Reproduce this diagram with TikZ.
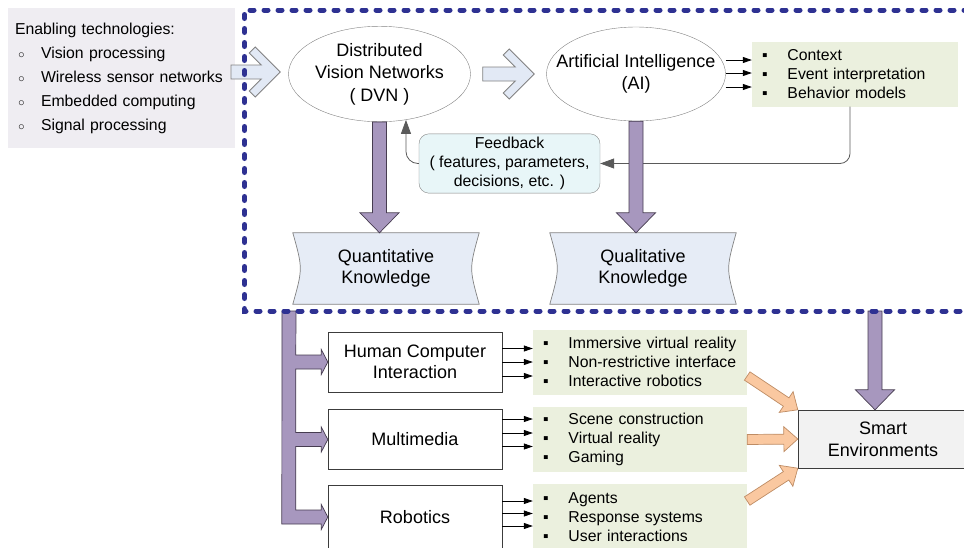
\documentclass[tikz,border=0pt]{standalone}
\usepackage{fontspec}
\setmainfont{Liberation Sans}
\usetikzlibrary{calc,shapes.geometric,arrows.meta,backgrounds}

\definecolor{dvnblue}{RGB}{46,49,146}
\definecolor{techgray}{RGB}{239,237,242}
\definecolor{listgreen}{RGB}{235,240,222}
\definecolor{fbcyan}{RGB}{232,246,248}
\definecolor{knowblue}{RGB}{230,236,246}
\definecolor{purplefill}{RGB}{167,151,190}
\definecolor{purpleline}{RGB}{70,60,80}
\definecolor{peach}{RGB}{250,200,160}
\definecolor{peachline}{RGB}{190,140,100}
\definecolor{envgray}{RGB}{242,242,242}
\definecolor{hollowfill}{RGB}{226,233,245}
\definecolor{lightline}{RGB}{130,130,130}
\definecolor{darkline}{RGB}{60,60,60}
\definecolor{fbline}{RGB}{90,90,90}

\newcommand{\sqbul}{\makebox[25.5pt][l]{▪}}
\newcommand{\cbul}{\hspace*{3pt}\makebox[23pt][l]{\fontsize{11}{11}\selectfont ○}}

\tikzstyle{arrow} = [line width=0.8pt,->,>={Triangle[length=9pt,width=6pt]}]
\tikzstyle{fbarrow} = [line width=0.8pt,draw=fbline,->,>={Triangle[length=14pt,width=10pt]}]

\tikzset{
  listbox/.style={fill=listgreen, minimum height=65pt, inner xsep=10pt, align=left},
  appbox/.style={draw=darkline, fill=white, minimum width=174pt, minimum height=60pt, align=center, font=\fontsize{18}{21}\selectfont},
  knowbox/.style={align=center, minimum width=186pt, minimum height=71pt, font=\fontsize{18}{21}\selectfont},
  ellnode/.style={ellipse, draw=lightline, fill=white, inner sep=0pt, font=\fontsize{18}{22.5}\selectfont},
  % #1 shaft half width, #2 head half width, #3 head length
  blockarrow/.style n args={3}{to path={
    ($(\tikztostart)!#1!90:(\tikztotarget)$)
    -- ($($(\tikztotarget)!#3!(\tikztostart)$)!#1!90:(\tikztotarget)$)
    -- ($($(\tikztotarget)!#3!(\tikztostart)$)!#2!90:(\tikztotarget)$)
    -- (\tikztotarget)
    -- ($($(\tikztotarget)!#3!(\tikztostart)$)!#2!-90:(\tikztotarget)$)
    -- ($($(\tikztotarget)!#3!(\tikztostart)$)!#1!-90:(\tikztotarget)$)
    -- ($(\tikztostart)!#1!-90:(\tikztotarget)$) -- cycle}},
  hollowarrow/.style={draw=lightline, fill=hollowfill, line width=0.8pt, to path={
    ($(\tikztostart)!7pt!90:(\tikztotarget)$)
    -- ($($(\tikztotarget)!19pt!(\tikztostart)$)!7pt!90:(\tikztotarget)$)
    -- ($($(\tikztotarget)!31pt!(\tikztostart)$)!19pt!90:(\tikztotarget)$)
    -- ($($(\tikztotarget)!25pt!(\tikztostart)$)!25pt!90:(\tikztotarget)$)
    -- (\tikztotarget)
    -- ($($(\tikztotarget)!25pt!(\tikztostart)$)!25pt!-90:(\tikztotarget)$)
    -- ($($(\tikztotarget)!31pt!(\tikztostart)$)!19pt!-90:(\tikztotarget)$)
    -- ($($(\tikztotarget)!19pt!(\tikztostart)$)!7pt!-90:(\tikztotarget)$)
    -- ($(\tikztostart)!7pt!-90:(\tikztotarget)$) -- cycle}},
  purplearrow/.style={blockarrow={7pt}{19.5pt}{20pt}, draw=purpleline, fill=purplefill, line width=0.7pt},
  peacharrow/.style={blockarrow={5pt}{12.5pt}{14pt}, draw=peachline, fill=peach, line width=0.7pt},
  dvnframe/.style={draw=dvnblue, line width=5pt, line cap=round, dash pattern=on 4pt off 10pt}
}

\begin{document}
\begin{tikzpicture}[x=1pt, y=-1pt, node distance=77.5pt, font=\fontsize{15.8}{19}\selectfont]
  \useasboundingbox (0,0) rectangle (964,547);

  % upper part
  \node[fill=techgray, minimum width=227pt, minimum height=140pt, text width=213pt, inner xsep=7pt, align=left, font=\fontsize{15.8}{24}\selectfont] (tech) at (121.5,78) {Enabling technologies:\\\cbul Vision processing\\\cbul Wireless sensor networks\\\cbul Embedded computing\\\cbul Signal processing};
  \node[ellnode, minimum width=182pt, minimum height=93pt] (dvn) at (379.5,74) {\makebox[0pt]{\begin{tabular}{@{}c@{}}Distributed\\Vision Networks\\( DVN )\end{tabular}}};
  \node[ellnode, minimum width=179pt, minimum height=94pt] (ai) at (636,74) {\makebox[0pt]{\begin{tabular}{@{}c@{}}Artificial Intelligence\\(AI)\end{tabular}}};
  \node[listbox, text width=186pt, minimum width=206pt] (ctxlist) at (855,74) {\sqbul Context\\\sqbul Event interpretation\\\sqbul Behavior models};
  \node[draw=lightline, fill=fbcyan, rounded corners=10pt, minimum width=181pt, minimum height=57pt, align=center] (fb) at (509.5,163.5) {Feedback\\( features, parameters,\\decisions, etc. )};
  \node[knowbox] (quant) at (386,268.5) {Quantitative\\Knowledge};
  \node[knowbox] (qual) at (643,268.5) {Qualitative\\Knowledge};
  \begin{scope}[on background layer]
    \foreach \k in {quant,qual}
      \draw[draw=lightline, fill=knowblue, line width=0.7pt] (\k.north west) -- (\k.north east) .. controls ($(\k.east)+(-10,0)$) .. (\k.south east) -- (\k.south west) .. controls ($(\k.west)+(10,0)$) .. cycle;
  \end{scope}

  % applications
  \node[appbox] (hci) at (415,362) {Human Computer\\Interaction};
  \node[appbox, below of=hci] (mm) {Multimedia};
  \node[appbox, below of=mm, minimum height=64pt] (rob) {Robotics};
  \node[listbox, text width=194pt, minimum width=214pt] (hcilist) at (640,362) {\sqbul Immersive virtual reality\\\sqbul Non-restrictive interface\\\sqbul Interactive robotics};
  \node[listbox, text width=194pt, minimum width=214pt] (mmlist) at (640,439.5) {\sqbul Scene construction\\\sqbul Virtual reality\\\sqbul Gaming};
  \node[listbox, text width=194pt, minimum width=214pt, minimum height=66pt] (roblist) at (640,517) {\sqbul Agents\\\sqbul Response systems\\\sqbul User interactions};
  \node[draw=darkline, fill=envgray, minimum width=170pt, minimum height=58pt, align=center, font=\fontsize{18}{22}\selectfont] (env) at (883,439) {Smart\\Environments};

  % thin arrows
  \foreach \dy in {14,1,-13}
    \draw[arrow] ([yshift=\dy pt]ai.east) -- ([yshift=\dy pt]ctxlist.west);
  \foreach \dy in {13.5,0,-14}
    \draw[arrow] ([yshift=\dy pt]hci.east) -- ([yshift=\dy pt]hcilist.west);
  \foreach \dy in {20.5,6.5,-7}
    \draw[arrow] ([yshift=\dy pt]mm.east) -- ([yshift=\dy pt]mmlist.west);
  \foreach \dy in {16,3.5,-9}
    \draw[arrow] ([yshift=\dy pt]rob.east) -- ([yshift=\dy pt]roblist.west);
  \draw[fbarrow, rounded corners=10pt] ([xshift=-5pt]ctxlist.south) |- (fb.east);
  \draw[fbarrow, rounded corners=12pt] (fb.west) -| (dvn.-60);

  % block arrows
  \coordinate (techout) at (231,72);
  \coordinate (dvnin) at ([xshift=-8pt,yshift=2pt]dvn.west);
  \coordinate (dvnout) at ([xshift=12pt]dvn.east);
  \coordinate (aiin) at ([xshift=-12pt]ai.west);
  \draw[hollowarrow] (techout) to (dvnin);
  \draw[hollowarrow] (dvnout) to (aiin);
  \coordinate (quanttip) at (dvn.south |- quant.north);
  \coordinate (qualtip) at (ai.south |- qual.north);
  \coordinate (envtop) at (875,311);
  \coordinate (envtip) at (envtop |- env.north);
  \draw[purplearrow] (dvn.south) to (quanttip);
  \draw[purplearrow] (ai.south) to (qualtip);
  \draw[purplearrow] (envtop) to (envtip);
  \draw[draw=purpleline, fill=purplefill, line width=0.7pt] (282,311) -- (296,311)
    \foreach \b in {hci,mm} { -- ($(\b.west)+(-32,-7)$) -- ($(\b.west)+(-6.5,-7)$) -- ($(\b.west)+(-6.5,-12.5)$) -- (\b.west)
      -- ($(\b.west)+(-6.5,12.5)$) -- ($(\b.west)+(-6.5,7)$) -- ($(\b.west)+(-32,7)$) }
    -- ($(rob.west)+(-32,-7)$) -- ($(rob.west)+(-6.5,-7)$) -- ($(rob.west)+(-6.5,-12.5)$) -- (rob.west)
    -- ($(rob.west)+(-6.5,12.5)$) -- ($(rob.west)+(-6.5,7)$) -- ($(rob.west)+(-46,7)$) -- cycle;
  \coordinate (hciout) at ([yshift=-14pt]hcilist.east);
  \coordinate (robout) at ([yshift=16pt]roblist.east);
  \draw[peacharrow] (hciout) to (env.north west);
  \draw[peacharrow] (mmlist.east) to (env.west);
  \draw[peacharrow] (robout) to (env.south west);

  % dashed frame
  \draw[dvnframe] (968,10) -- (244.5,10) -- (244.5,311) -- (968,311);
\end{tikzpicture}
\end{document}
